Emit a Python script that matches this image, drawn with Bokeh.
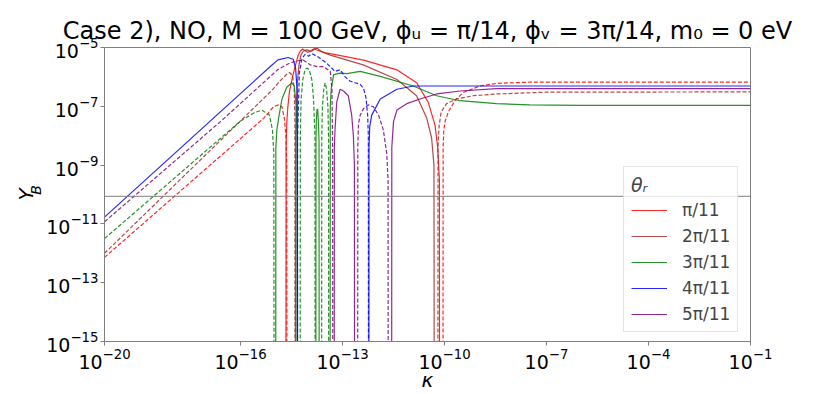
import math
from bokeh.plotting import figure
from bokeh.models import Range1d, Span, FixedTicker, LogAxis
from bokeh.embed import file_html
from bokeh.resources import INLINE

N = float("nan")
D = -30.0  # value far below the axis (curve goes through zero / changes sign)

# ---- data: log10(kappa), log10(Y_B) ----
# theta_R = pi/11 (red)
red_solid_k = [-14.67, -14.66, -14.64, -14.61, -14.56, -14.46, -14.36, -14.30, -14.24, -14.17, -14.03, -13.90,
               -13.83, -13.68, -13.50, -13.36, -12.38, -11.40, -10.82, -10.48, -10.28, -10.20, -10.15, -10.14]
red_solid_y = [D, -8.4, -7.6, -7.05, -6.5, -5.95, -5.5, -5.25, -5.12, -5.05, -5.16, -5.12,
               -5.05, -5.12, -5.18, -5.21, -5.43, -5.76, -6.20, -6.86, -7.63, -8.4, -9.5, D]
red_dash_k = [-20, -15.32, -15.03, -14.88, -14.78, -14.71, -14.66, -14.64, -14.63, N,
              -10.05, -10.04, -10.02, -9.98, -9.89, -9.69, -9.45, -8.96, -8.47, -7.49, -1]
red_dash_y = [-12.14, -7.41, -7.02, -6.95, -7.02, -7.41, -8.07, -9.0, D, N,
              D, -8.4, -7.8, -7.5, -7.2, -6.80, -6.53, -6.31, -6.22, -6.18, -6.18]
# theta_R = 2pi/11 (brown)
brown_solid_k = [-14.39, -14.38, -14.36, -14.33, -14.28, -14.22, -14.15, -14.05, -13.95, -13.85, -13.75, -13.60,
                 -13.36, -12.39, -11.40, -10.82, -10.52, -10.38, -10.31, -10.29]
brown_solid_y = [D, -8.0, -7.0, -6.2, -5.6, -5.25, -5.12, -5.08, -5.12, -5.05, -5.02, -5.15,
                 -5.26, -5.59, -6.09, -6.64, -7.41, -8.07, -9.0, D]
brown_dash_k = [-20, -15.07, -14.85, -14.65, -14.56, -14.47, -14.42, -14.40, -14.39, N,
                -10.20, -10.19, -10.16, -10.10, -9.94, -9.64, -9.15, -8.47, -7.0, -1]
brown_dash_y = [-12.0, -6.45, -6.15, -5.92, -5.85, -5.95, -6.4, -7.5, D, N,
                D, -8.4, -7.7, -7.2, -6.91, -6.75, -6.64, -6.58, -6.52, -6.51]
# theta_R = 3pi/11 (green)
green_solid_k = [-14.97, -14.96, -14.93, -14.88, -14.78, -14.64, -14.49, -14.42, -14.36, -14.34, -14.33, N,
                 -13.79, -13.78, -13.77, -13.75, -13.73, -13.71, -13.69, -13.68, N,
                 -13.37, -13.36, -13.33, -13.26, -13.07, -12.87, -12.48, -11.89, -10.92, -10.23, -9.55,
                 -8.47, -7.49, -6.0, -1]
green_solid_y = [D, -8.4, -7.8, -7.41, -6.75, -6.35, -6.20, -6.31, -6.97, -8.0, D, N,
                 D, -8.2, -7.5, -7.1, -7.1, -7.5, -8.2, D, N,
                 D, -7.0, -6.4, -5.92, -5.87, -5.89, -5.81, -5.98, -6.31, -6.64, -6.81,
                 -6.91, -6.95, -6.97, -6.97]
green_dash_k = [-20, -16.0, -15.6, -15.37, -15.15, -15.06, -15.02, -15.0, N,
                -14.25, -14.24, -14.22, -14.17, -14.10, -14.05, -13.98, -13.90, -13.85, -13.81, -13.80, N,
                -13.62, -13.61, -13.59, -13.55, -13.51, -13.47, -13.43, -13.41, -13.40]
green_dash_y = [-11.5, -7.5, -7.22, -7.13, -7.3, -7.8, -8.6, D, N,
                D, -8.0, -6.8, -6.1, -5.75, -5.70, -5.75, -6.1, -6.8, -8.0, D, N,
                D, -8.0, -7.0, -6.4, -6.2, -6.4, -7.0, -8.0, D]
# theta_R = 4pi/11 (blue)
blue_solid_k = [-20, -15.1, -14.9, -14.6, -14.45, -14.38, -14.33, -14.31, N,
                -12.23, -12.22, -12.20, -12.14, -11.89, -11.40, -10.92, -10.0, -1]
blue_solid_y = [-10.77, -5.62, -5.42, -5.34, -5.4, -5.7, -6.5, D, N,
                D, -8.4, -7.7, -7.3, -6.75, -6.42, -6.31, -6.31, -6.31]
blue_dash_k = [-14.33, -14.32, -14.27, -14.19, -14.10, -14.00, -13.90, -13.75, -13.51, -13.36, -13.22, -13.07,
               -12.92, -12.78, -12.63, -12.48, -12.38, -12.31, -12.26, -12.24, -12.23]
blue_dash_y = [D, -8.0, -5.87, -5.37, -5.23, -5.30, -5.21, -5.30, -5.49, -5.65, -5.81, -5.76,
               -6.0, -6.14, -6.2, -6.25, -6.4, -6.7, -7.3, -8.0, D]
# theta_R = 5pi/11 (purple)
purple_solid_k = [-13.25, -13.24, -13.22, -13.17, -13.07, -12.97, -12.83, -12.73, -12.68, -12.65, -12.64, N,
                  -11.56, -11.55, -11.50, -11.40, -11.11, -10.72, -10.23, -9.54, -8.47, -7.0, -1]
purple_solid_y = [D, -8.4, -7.8, -6.86, -6.42, -6.48, -6.64, -7.30, -8.0, -9.0, D, N,
                  D, -8.4, -7.52, -7.13, -6.91, -6.75, -6.58, -6.48, -6.40, -6.40, -6.40]
purple_dash_k = [-20, -16.59, -14.9, -14.54, -14.3, -14.15, -13.95, -13.75, -13.56, -13.36, -13.31, -13.29, -13.28, N,
                 -12.56, -12.55, -12.53, -12.48, -12.38, -12.24, -12.09, -11.94, -11.80, -11.70, -11.66, -11.65]
purple_dash_y = [-10.93, -7.52, -5.75, -5.52, -5.45, -5.43, -5.59, -5.65, -5.65, -5.81, -6.42, -8.4, D, N,
                 D, -8.4, -7.6, -7.3, -7.08, -6.95, -7.02, -7.3, -7.8, -8.6, -9.5, D]

legend_labels = ["π/11", "2π/11", "3π/11", "4π/11", "5π/11"]
colors = ["#ff0000", "#a52a2a", "#008000", "#0000ff", "#800080"]
observed_YB = 8.7e-11

x_ticks = [1e-20, 1e-16, 1e-13, 1e-10, 1e-7, 1e-4, 1e-1]
y_ticks = [1e-15, 1e-13, 1e-11, 1e-9, 1e-7, 1e-5]

series = [
    (red_solid_k, red_solid_y, red_dash_k, red_dash_y),
    (brown_solid_k, brown_solid_y, brown_dash_k, brown_dash_y),
    (green_solid_k, green_solid_y, green_dash_k, green_dash_y),
    (blue_solid_k, blue_solid_y, blue_dash_k, blue_dash_y),
    (purple_solid_k, purple_solid_y, purple_dash_k, purple_dash_y),
]

FONT = "DejaVu Sans"

p = figure(width=831, height=394, x_axis_type="log", y_axis_type="log",
           x_range=Range1d(1e-20, 1e-1), y_range=Range1d(1e-15, 1e-5),
           output_backend="svg", toolbar_location=None,
           min_border_left=104, min_border_right=81, min_border_top=47, min_border_bottom=44)
p.background_fill_color = "white"
p.border_fill_color = "white"
p.outline_line_color = "#808080"
p.grid.visible = False

p.title.text = "Case 2), NO, M = 100 GeV, ϕᵤ = π/14, ϕᵥ = 3π/14, m₀ = 0 eV"
p.title.text_font = FONT
p.title.text_font_size = "24px"
p.title.text_font_style = "normal"
p.title.text_color = "black"
p.title.align = "center"
p.title.standoff = 6

for ax in (p.xaxis[0], p.yaxis[0]):
    ax.axis_line_color = "#808080"
    ax.major_tick_line_color = "#808080"
    ax.minor_tick_line_color = None
    ax.major_tick_out = 4
    ax.major_tick_in = 0
    ax.major_label_text_font = FONT
    ax.major_label_text_font_size = "19px"
    ax.major_label_text_color = "black"
    ax.major_label_standoff = 2
p.xaxis.ticker = FixedTicker(ticks=x_ticks)
p.yaxis.ticker = FixedTicker(ticks=y_ticks)
p.xaxis.axis_label = "κ"
p.xaxis.axis_label_text_font = FONT
p.xaxis.axis_label_text_font_size = "20px"
p.xaxis.axis_label_text_font_style = "italic"
p.xaxis.axis_label_text_color = "black"
p.xaxis.axis_label_standoff = -4

# y-axis label Y with subscript B: two label-only axes stacked outside the tick labels
sub_axis = LogAxis(ticker=FixedTicker(ticks=[]), axis_line_color=None, major_tick_line_color=None,
                   minor_tick_line_color=None, major_label_text_font_size="0px",
                   axis_label="\u00a0\u00a0B", axis_label_text_font=FONT, axis_label_text_color="black",
                   axis_label_text_font_size="14px", axis_label_text_font_style="italic",
                   axis_label_standoff=0)
main_axis = LogAxis(ticker=FixedTicker(ticks=[]), axis_line_color=None, major_tick_line_color=None,
                    minor_tick_line_color=None, major_label_text_font_size="0px",
                    axis_label="Y", axis_label_text_font=FONT, axis_label_text_font_size="20px",
                    axis_label_text_color="black",
                    axis_label_text_font_style="italic", axis_label_standoff=-13)
p.add_layout(sub_axis, "left")
p.add_layout(main_axis, "left")

p.add_layout(Span(location=observed_YB, dimension="width", line_color="gray", line_width=1.2, line_alpha=0.8))

for (ks, ys, kd, yd), col, lab in zip(series, colors, legend_labels):
    xs = [10.0 ** v for v in ks]
    yv = [10.0 ** v for v in ys]
    xd = [10.0 ** v for v in kd]
    ydv = [10.0 ** v for v in yd]
    p.line(xs, yv, line_color=col, line_width=1.2, line_alpha=0.85, legend_label=lab)
    p.line(xd, ydv, line_color=col, line_width=1.2, line_alpha=0.85, line_dash="4 2")

leg = p.legend[0]
leg.location = (519, 9)
leg.title = "θᵣ"
leg.title_text_font = FONT
leg.title_text_font_size = "19px"
leg.title_text_font_style = "italic"
leg.label_text_font = FONT
leg.label_text_font_size = "17px"
leg.glyph_width = 36
leg.glyph_height = 20
leg.label_height = 20
leg.spacing = 6
leg.label_standoff = 15
leg.padding = 7
leg.margin = 0
leg.title_standoff = 4
leg.border_line_color = "#cccccc"
leg.background_fill_color = "white"
leg.background_fill_alpha = 0.8

open("out.html", "w").write(file_html(p, INLINE))
